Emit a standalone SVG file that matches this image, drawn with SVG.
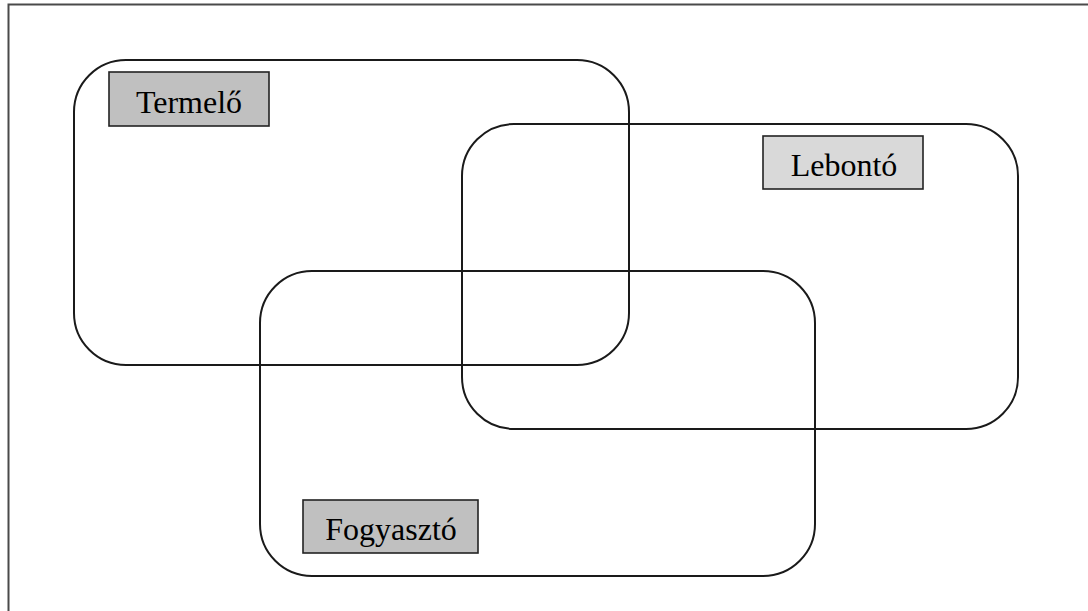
<svg xmlns="http://www.w3.org/2000/svg" width="1088" height="611" viewBox="0 0 1088 611">
<style>
.frame{fill:none;stroke:#4a4a4a;stroke-width:2}
.set{fill:none;stroke:#1a1a1a;stroke-width:2}
.lbl{stroke:#222;stroke-width:1.6}
.dark{fill:#c0c0c0}
.light{fill:#d9d9d9}
text{font-family:"Liberation Serif","Times New Roman",serif;font-size:32px;fill:#000;text-anchor:middle}
</style>
<rect class="frame" x="8.5" y="4.5" width="1090" height="620"/>
<g id="sets">
<rect id="set-termelo" class="set" x="74" y="60" width="555" height="305" rx="52" ry="52"/>
<rect id="set-lebonto" class="set" x="462" y="124" width="556" height="305" rx="52" ry="52"/>
<rect id="set-fogyaszto" class="set" x="260" y="271" width="555" height="305" rx="52" ry="52"/>
</g>
<g id="termelo">
<rect class="lbl dark" x="109" y="72" width="160" height="54"/>
<text x="189" y="113">Termelő</text>
</g>
<g id="lebonto">
<rect class="lbl light" x="763" y="136" width="160" height="53"/>
<text x="844" y="176">Lebontó</text>
</g>
<g id="fogyaszto">
<rect class="lbl dark" x="303" y="500" width="175" height="53"/>
<text x="391" y="540">Fogyasztó</text>
</g>
<g id="connectors"/>
</svg>
